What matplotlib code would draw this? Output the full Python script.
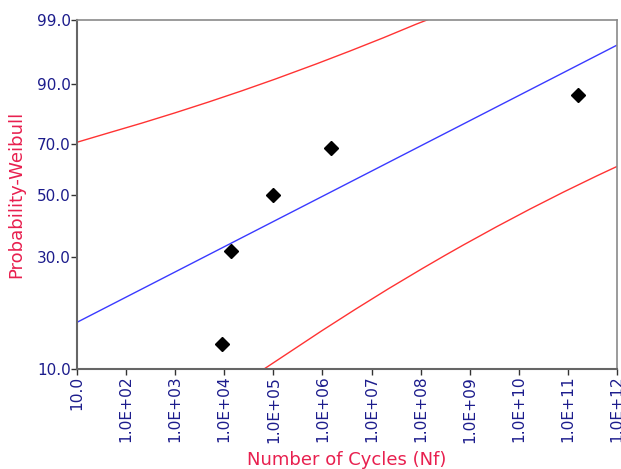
import numpy as np
import matplotlib
matplotlib.use("Agg")
import matplotlib.pyplot as plt

# ── data (cycles, cumulative failure %) ─────────────────────────────────────
cycles = [9.0e3, 1.4e4, 1.0e5, 1.5e6, 1.6e11]
prob = [12.96, 31.48, 50.0, 68.52, 87.04]

# fitted Weibull line
fit_x = [1.0e1, 1.0e12]
fit_p = [16.08, 96.96]

# confidence bounds
upper_x = [1.0e1, 4.34e1, 2.08e2, 9.91e2, 4.73e3, 2.265e4, 1.08e5,
           7.64e5, 3.64e6, 1.74e7, 8.32e7, 1.43e8]
upper_p = [70.6, 74.16, 77.79, 81.39, 84.87, 88.14, 91.1,
           94.25, 96.23, 97.72, 98.76, 99.0]

lower_x = [6.24e4, 2.01e5, 9.66e5, 4.60e6, 2.19e7, 1.05e8, 3.13e8, 7.40e8,
           3.55e9, 1.69e10, 8.05e10, 3.86e11, 1.0e12]
lower_p = [10.0, 11.83, 14.78, 18.23, 22.24, 26.8, 30.3, 33.22,
           38.88, 44.86, 51.05, 57.31, 61.05]

y_ticks = [10, 30, 50, 70, 90, 99]
x_ticks = [10.0 ** k for k in range(1, 13)]
x_labels = ["10.0"] + [f"1.0E+{k:02d}" for k in range(2, 13)]

TICK_COL = "#1c1c8c"
LABEL_COL = "#e8204f"


# ── Weibull probability scale ───────────────────────────────────────────────
def weib_fwd(p):
    p = np.clip(np.asarray(p, dtype=float), 1e-6, 100 - 1e-6)
    return np.log(-np.log(1 - p / 100.0))


def weib_inv(w):
    return 100.0 * (1 - np.exp(-np.exp(w)))


fig = plt.figure(figsize=(6.21, 4.69), dpi=100)
ax = fig.add_axes([0.124, 0.2122, 0.8696, 0.7462])
ax.set_xscale("log")
ax.set_yscale("function", functions=(weib_fwd, weib_inv))

ax.plot(upper_x, upper_p, color="#ff3333", lw=1.0)
ax.plot(lower_x, lower_p, color="#ff3333", lw=1.0)
ax.plot(fit_x, fit_p, color="#3a3aff", lw=1.0)
ax.plot(cycles, prob, "D", color="black", ms=7, ls="none")

ax.set_xlim(10, 1e12)
ax.set_ylim(10, 99)

ax.set_xticks(x_ticks)
ax.set_xticklabels(x_labels, rotation=90, fontsize=11.2, color=TICK_COL)
ax.xaxis.set_minor_locator(matplotlib.ticker.NullLocator())
ax.set_yticks(y_ticks)
ax.set_yticklabels([f"{v:.1f}" for v in y_ticks], fontsize=11, color=TICK_COL)
ax.yaxis.set_minor_locator(matplotlib.ticker.NullLocator())
ax.tick_params(direction="out", length=4, width=1, color="#333333", pad=0.5)

for side in ["left", "bottom"]:
    ax.spines[side].set_color("#666666")
    ax.spines[side].set_linewidth(1.5)
for side in ["top", "right"]:
    ax.spines[side].set_color("#8a8a8a")
    ax.spines[side].set_linewidth(1.2)

ax.set_xlabel("Number of Cycles (Nf)", fontsize=13, color=LABEL_COL, labelpad=6)
ax.set_ylabel("Probability-Weibull", fontsize=13, color=LABEL_COL, labelpad=8)

fig.savefig("out.png", dpi=100)
